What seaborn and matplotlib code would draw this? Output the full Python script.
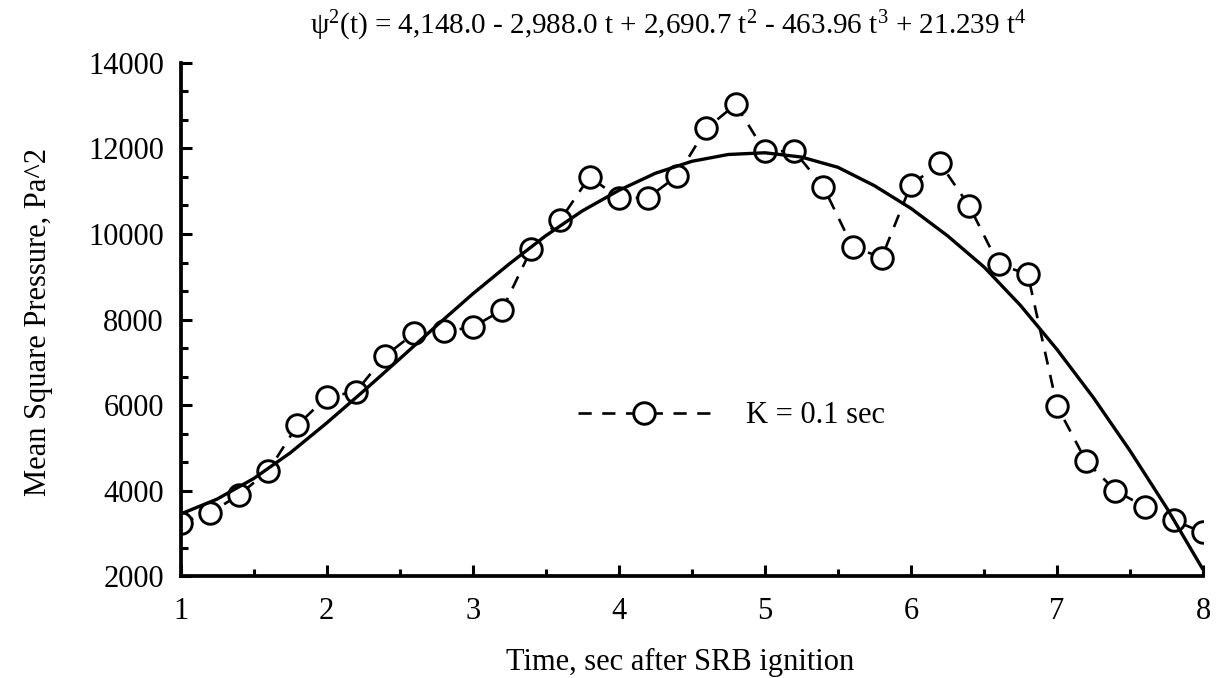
import matplotlib
matplotlib.use("Agg")
import matplotlib.pyplot as plt
from matplotlib.ticker import AutoMinorLocator
import seaborn as sns
import pandas as pd

# ---- data ----
time_sec = [1.0, 1.2, 1.4, 1.6, 1.8, 2.0, 2.2, 2.4, 2.6, 2.8, 3.0, 3.2,
            3.4, 3.6, 3.8, 4.0, 4.2, 4.4, 4.6, 4.8, 5.0, 5.2, 5.4, 5.6,
            5.8, 6.0, 6.2, 6.4, 6.6, 6.8, 7.0, 7.2, 7.4, 7.6, 7.8, 8.0]
mean_square = [3250, 3470, 3900, 4460, 5530, 6190, 6310, 7150, 7680, 7720, 7820, 8220,
               9640, 10330, 11340, 10840, 10850, 11360, 12470, 13030, 11930, 11940, 11110, 9700,
               9450, 11150, 11650, 10650, 9290, 9060, 5980, 4680, 4000, 3620, 3300, 3020]

fit_time = [1.0, 1.25, 1.5, 1.75, 2.0, 2.25, 2.5, 2.75, 3.0, 3.25, 3.5, 3.75,
            4.0, 4.25, 4.5, 4.75, 5.0, 5.25, 5.5, 5.75, 6.0, 6.25, 6.5, 6.75,
            7.0, 7.25, 7.5, 7.75, 8.0]
fit_values = [3450, 3800, 4280, 4880, 5580, 6320, 7080, 7850, 8600, 9300, 9960, 10540,
              11020, 11420, 11700, 11860, 11900, 11800, 11560, 11130, 10600, 9960, 9230, 8330,
              7300, 6170, 4930, 3600, 2150]

x_ticks = [1, 2, 3, 4, 5, 6, 7, 8]
y_ticks = [2000, 4000, 6000, 8000, 10000, 12000, 14000]
legend_label = "K = 0.1 sec"
x_label = "Time, sec after SRB ignition"
y_label = "Mean Square Pressure, Pa^2"
title_text = ("\u03c8$^{2}$(t) = 4,148.0 - 2,988.0 t + 2,690.7 t$^{2}$ - 463.96 t$^{3}$"
              " + 21.239 t$^{4}$")

# ---- style ----
sns.set_theme(style="ticks")
plt.rcParams['font.family'] = ['Liberation Serif', 'DejaVu Serif']
plt.rcParams['mathtext.fontset'] = 'custom'
plt.rcParams['mathtext.rm'] = 'Liberation Serif'
plt.rcParams['mathtext.it'] = 'Liberation Serif:italic'
plt.rcParams['mathtext.bf'] = 'Liberation Serif:bold'
for key in ['text.color', 'axes.labelcolor', 'xtick.color', 'ytick.color', 'axes.edgecolor']:
    plt.rcParams[key] = 'black'

fig = plt.figure(figsize=(12.19, 6.78), dpi=100)
ax = fig.add_axes([0.1482, 0.1504, 0.8387, 0.7567])

df_meas = pd.DataFrame({"t": time_sec, "psi2": mean_square})
df_fit = pd.DataFrame({"t": fit_time, "psi2": fit_values})

sns.lineplot(data=df_meas, x="t", y="psi2", ax=ax, color="black", linestyle="--",
             linewidth=1.9, marker="o", markersize=15.5, markerfacecolor="white",
             markeredgecolor="black", markeredgewidth=2.1, zorder=2, legend=False)
meas_line = ax.lines[-1]
meas_line.set_dashes((5, 4))

sns.lineplot(data=df_fit, x="t", y="psi2", ax=ax, color="black", linewidth=2.4,
             zorder=3, legend=False)

ax.set_xlim(1, 8)
ax.set_ylim(2000, 14000)
ax.set_xticks(x_ticks)
ax.set_yticks(y_ticks)
ax.xaxis.set_minor_locator(AutoMinorLocator(2))
ax.yaxis.set_minor_locator(AutoMinorLocator(3))
ax.tick_params(which='both', direction='in', width=2.2, colors='black', labelsize=22)
ax.tick_params(which='major', length=8)
ax.tick_params(which='minor', length=5)
ax.tick_params(axis='x', pad=15)
ax.tick_params(axis='y', pad=12)
sns.despine(ax=ax)
for s in ['left', 'bottom']:
    ax.spines[s].set_linewidth(2.7)
    ax.spines[s].set_color('black')

ax.set_xlabel(x_label, fontsize=22)
ax.xaxis.set_label_coords(0.489, -0.14)
ax.set_ylabel(y_label, fontsize=22)
ax.yaxis.label.set_va('center')
ax.yaxis.set_label_coords(-0.139, 0.495)

fig.text(0.548, 0.962, title_text, ha='center', va='center', fontsize=21)

ax.legend(handles=[meas_line], labels=[legend_label], loc='center left',
          bbox_to_anchor=(0.389, 0.312), frameon=False, handlelength=4.3,
          handletextpad=1.2, borderpad=0, borderaxespad=0, numpoints=1, fontsize=22)

fig.savefig("out.png", dpi=100)
